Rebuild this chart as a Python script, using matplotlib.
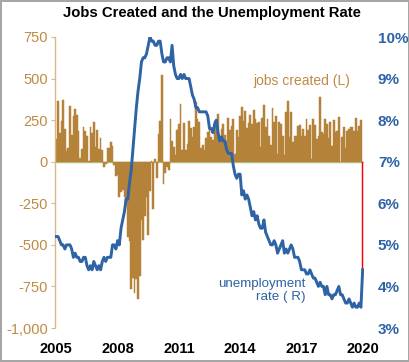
import matplotlib
matplotlib.use("Agg")
import matplotlib.pyplot as plt
from matplotlib.ticker import FuncFormatter

plt.rcParams["font.family"] = ["Liberation Sans", "DejaVu Sans"]

BAR = "#b5823a"
BAR_LABEL = "#c08a45"
SPINE = "#d9b886"
BLUE = "#2e63a6"
ZERO = "#a9d18e"
RED = "#ff0000"

# monthly, Mar 2005 .. Mar 2020
jobs = [
    134, 363, 175, 245, 373, 196, 67, 84, 337, 159,
    277, 315, 280, 182, 23, 77, 207, 184, 157, 2, 210, 171,
    238, 88, 188, 78, 144, 71, -33, -16, 85, 82, 118, 97,
    -20, -86, -80, -214, -182, -172, -210, -259, -452, -474, -765, -697,
    -791, -703, -823, -686, -351, -470, -329, -212, -438, -178, 7, -283,
    16, -99, 164, 243, 522, -133, -70, -34, -52, 257, 123, 88,
    42, 188, 225, 346, 73, 235, 70, 107, 246, 202, 146, 207,
    361, 259, 239, 85, 100, 73, 144, 176, 203, 146, 132, 244,
    211, 286, 130, 197, 226, 162, 122, 261, 190, 212, 256, 47,
    190, 151, 272, 329, 246, 304, 202, 230, 280, 227, 312, 255,
    234, 238, 86, 262, 344, 206, 254, 157, 100, 321, 237, 273,
    45, 236, 225, 153, 43, 297, 364, 146, 297, 121, 156, 155,
    216, 219, 153, 196, 155, 254, 190, 221, 14, 256, 218, 136,
    155, 390, 178, 165, 257, 229, 140, 237, 96, 249, 176, 182,
    269, 1, 147, 210, 85, 182, 194, 207, 208, 185, 261, 184,
    214, 251, -701,
]
unemp = [
    5.2, 5.2, 5.1, 5.0, 5.0, 4.9, 5.0, 5.0, 5.0, 4.9,
    4.7, 4.8, 4.7, 4.7, 4.6, 4.6, 4.7, 4.7, 4.5, 4.4, 4.5, 4.4,
    4.6, 4.5, 4.4, 4.5, 4.4, 4.6, 4.7, 4.6, 4.7, 4.7, 4.7, 5.0,
    5.0, 4.9, 5.1, 5.0, 5.4, 5.6, 5.8, 6.1, 6.1, 6.5, 6.8, 7.3,
    7.8, 8.3, 8.7, 9.0, 9.4, 9.5, 9.5, 9.6, 9.8, 10.0, 9.9, 9.9,
    9.8, 9.8, 9.9, 9.9, 9.6, 9.4, 9.4, 9.5, 9.5, 9.4, 9.8, 9.3,
    9.1, 9.0, 9.0, 9.1, 9.0, 9.1, 9.0, 9.0, 9.0, 8.8, 8.6, 8.5,
    8.3, 8.3, 8.2, 8.2, 8.2, 8.2, 8.2, 8.1, 7.8, 7.8, 7.7, 7.9,
    8.0, 7.7, 7.5, 7.6, 7.5, 7.5, 7.3, 7.2, 7.2, 7.2, 6.9, 6.7,
    6.6, 6.7, 6.7, 6.2, 6.3, 6.1, 6.2, 6.1, 5.9, 5.7, 5.8, 5.6,
    5.7, 5.5, 5.4, 5.4, 5.6, 5.3, 5.2, 5.1, 5.0, 5.0, 5.1, 5.0,
    4.8, 4.9, 5.0, 5.1, 4.8, 4.9, 4.8, 4.9, 5.0, 4.9, 4.7, 4.7,
    4.7, 4.6, 4.4, 4.4, 4.4, 4.3, 4.3, 4.4, 4.3, 4.2, 4.2, 4.1,
    4.0, 4.1, 4.0, 4.0, 3.8, 4.0, 3.8, 3.8, 3.7, 3.8, 3.8, 3.9,
    4.0, 3.8, 3.8, 3.7, 3.6, 3.6, 3.7, 3.6, 3.5, 3.6, 3.5, 3.5,
    3.6, 3.5, 4.4,
]
year_labels = ["2005", "2008", "2011", "2014", "2017", "2020"]
label_every = 36  # months between x labels

months = list(range(len(jobs)))
bar_colors = [BAR] * (len(jobs) - 1) + [RED]

fig = plt.figure(figsize=(4.1, 3.62), dpi=100)
fig.patch.set_edgecolor("#a6a6a6")
fig.patch.set_linewidth(1.5)
ax = fig.add_axes([55 / 410, 1 - 328 / 362, 309 / 410, 291 / 362])

ax.axhline(0, color=ZERO, lw=1, zorder=0.5)
ax.bar(months, jobs, width=1.0, color=bar_colors, edgecolor=bar_colors,
       linewidth=0.35, zorder=1)
ax.set_xlim(-0.8, 180.8)
ax.set_ylim(-1000, 750)
ax.set_yticks(range(-1000, 751, 250))
ax.yaxis.set_major_formatter(FuncFormatter(lambda v, p: f"{v:,.0f}"))
ax.tick_params(axis="y", colors=SPINE, length=3, width=0.8, pad=2,
               labelcolor=BAR_LABEL, labelsize=10.5)
ax.set_xticks(months[::label_every])
ax.set_xticklabels(year_labels, fontsize=10.5, fontweight="bold")
ax.tick_params(axis="x", length=0, pad=10)
for s in ["top", "right", "bottom"]:
    ax.spines[s].set_visible(False)
ax.spines["left"].set_color(SPINE)
ax.spines["left"].set_linewidth(1)

ax2 = ax.twinx()
ax2.plot(months, unemp, color=BLUE, lw=2.1, solid_joinstyle="round")
ax2.set_ylim(3, 10)
ax2.set_yticks(range(3, 11))
ax2.yaxis.set_major_formatter(FuncFormatter(lambda v, p: f"{v:.0f}%"))
ax2.tick_params(axis="y", length=0, pad=10, labelcolor=BLUE, labelsize=11)
for lbl in ax2.get_yticklabels():
    lbl.set_fontweight("bold")
for s in ax2.spines.values():
    s.set_visible(False)

ax.text(144, 485, "jobs created (L)", color=BAR_LABEL, fontsize=10,
        ha="center", va="center")
ax2.text(146.5, 3.9, "unemployment\nrate ( R)", color=BLUE, fontsize=9.6,
         ha="right", va="center", multialignment="right", linespacing=1.15)

fig.text(0.517, 0.963, "Jobs Created and the Unemployment Rate",
         fontsize=10.7, fontweight="bold", ha="center", va="center")

fig.savefig("out.png", dpi=100, facecolor="white", edgecolor=fig.get_edgecolor())
